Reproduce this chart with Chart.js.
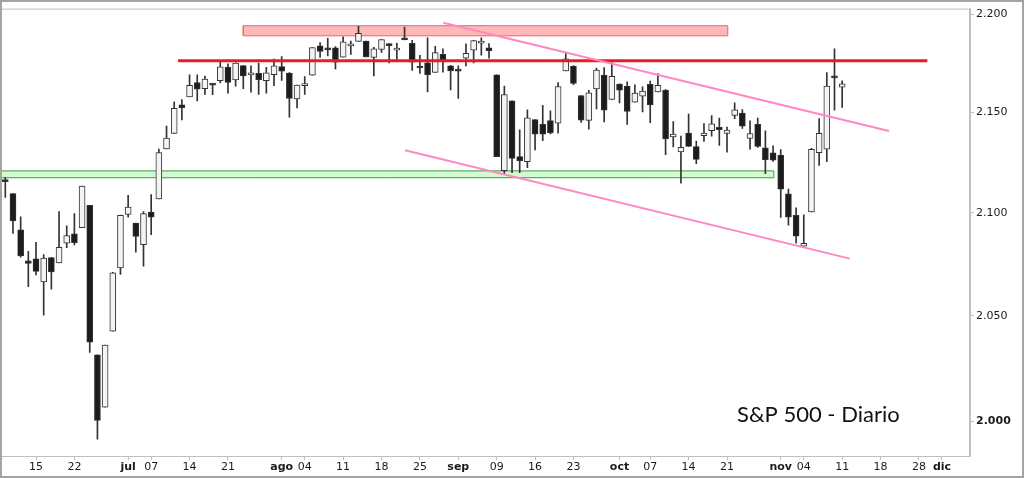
<!DOCTYPE html>
<html>
<head>
<meta charset="utf-8">
<script src="https://cdn.jsdelivr.net/npm/chart.js@4.4.1/dist/chart.umd.min.js"></script>
<style>
html,body{margin:0;padding:0;background:#fff;}
canvas{display:block;}
</style>
</head>
<body>
<canvas id="grafico" width="1024" height="478"></canvas>
<script>
// sesiones (dias habiles) 09/06/2016 - 11/11/2016
var fechas = ['09/06','10/06','13/06','14/06','15/06','16/06','17/06','20/06','21/06','22/06',
	'23/06','24/06','27/06','28/06','29/06','30/06','01/07','05/07','06/07','07/07',
	'08/07','11/07','12/07','13/07','14/07','15/07','18/07','19/07','20/07','21/07',
	'22/07','25/07','26/07','27/07','28/07','29/07','01/08','02/08','03/08','04/08',
	'05/08','08/08','09/08','10/08','11/08','12/08','15/08','16/08','17/08','18/08',
	'19/08','22/08','23/08','24/08','25/08','26/08','29/08','30/08','31/08','01/09',
	'02/09','06/09','07/09','08/09','09/09','12/09','13/09','14/09','15/09','16/09',
	'19/09','20/09','21/09','22/09','23/09','26/09','27/09','28/09','29/09','30/09',
	'03/10','04/10','05/10','06/10','07/10','10/10','11/10','12/10','13/10','14/10',
	'17/10','18/10','19/10','20/10','21/10','24/10','25/10','26/10','27/10','28/10',
	'31/10','01/11','02/11','03/11','04/11','07/11','08/11','09/11','10/11','11/11'];

var aperturas = [2115.65,2109.57,2091.75,2076.65,2077.60,2066.36,2078.20,2075.58,2085.19,2089.75,
	2092.80,2103.81,2031.45,2006.67,2042.69,2073.17,2099.34,2095.05,2084.43,2100.42,
	2106.97,2131.72,2139.50,2153.81,2157.88,2165.13,2162.04,2163.79,2166.10,2172.91,
	2166.47,2173.71,2168.97,2169.81,2166.05,2169.16,2173.15,2169.94,2156.81,2163.51,
	2168.79,2183.76,2182.24,2182.81,2177.97,2183.74,2186.08,2186.24,2177.84,2181.90,
	2184.24,2181.58,2187.81,2185.09,2173.29,2175.10,2170.19,2179.45,2173.56,2171.33,
	2177.49,2181.61,2185.17,2182.76,2169.08,2120.86,2155.81,2127.86,2125.36,2146.48,
	2143.99,2145.94,2144.58,2170.94,2173.29,2158.54,2146.04,2161.85,2168.90,2156.51,
	2164.33,2163.37,2155.15,2158.22,2164.19,2160.39,2161.35,2137.67,2130.26,2139.68,
	2132.95,2138.31,2140.81,2142.51,2139.43,2148.50,2149.72,2136.97,2144.06,2132.23,
	2129.78,2128.68,2109.43,2098.80,2083.79,2100.59,2129.92,2131.56,2167.49,2162.71];

var maximos = [2117.64,2109.57,2098.12,2081.30,2085.65,2079.62,2078.20,2100.66,2093.66,2099.71,
	2113.32,2103.81,2031.45,2036.09,2071.00,2098.94,2108.71,2095.05,2100.72,2109.08,
	2131.71,2143.16,2155.40,2156.45,2169.05,2169.05,2168.35,2164.63,2175.63,2174.56,
	2175.11,2173.71,2173.54,2174.98,2172.85,2177.09,2178.29,2170.20,2163.79,2168.19,
	2182.87,2185.44,2187.66,2183.41,2188.45,2186.28,2193.81,2186.24,2183.08,2187.03,
	2185.00,2185.15,2193.42,2186.66,2179.00,2187.94,2183.48,2182.27,2173.79,2173.56,
	2184.87,2186.57,2187.87,2184.94,2169.08,2163.30,2155.81,2141.33,2151.31,2146.48,
	2153.61,2150.80,2165.11,2179.99,2173.75,2158.54,2161.13,2172.40,2172.67,2175.30,
	2164.41,2165.46,2163.95,2162.93,2165.86,2169.60,2161.56,2145.36,2138.19,2149.19,
	2135.61,2144.38,2148.44,2147.18,2142.63,2154.79,2151.44,2145.73,2147.13,2140.72,
	2133.25,2131.45,2111.76,2102.56,2099.07,2132.00,2146.87,2170.10,2182.30,2165.92];

var minimos = [2107.73,2089.96,2078.46,2064.10,2069.80,2050.37,2062.84,2075.58,2083.02,2084.36,
	2092.80,2032.57,1991.68,2006.67,2042.69,2070.00,2097.90,2080.86,2074.02,2089.39,
	2106.97,2131.72,2139.50,2146.21,2157.88,2155.79,2159.07,2159.01,2164.89,2159.75,
	2163.24,2161.95,2160.18,2159.07,2159.74,2163.49,2166.21,2147.58,2152.25,2159.07,
	2168.79,2177.85,2178.61,2172.00,2177.97,2179.42,2186.08,2178.14,2168.50,2180.46,
	2175.13,2175.96,2186.80,2171.25,2169.74,2160.39,2170.19,2170.41,2161.35,2157.09,
	2173.59,2175.10,2179.07,2177.49,2127.81,2119.12,2119.86,2119.90,2122.36,2131.20,
	2135.91,2139.17,2139.57,2170.94,2163.97,2145.04,2141.55,2151.79,2145.20,2156.51,
	2154.77,2144.01,2155.15,2150.28,2144.85,2160.39,2128.84,2132.77,2114.72,2132.98,
	2124.43,2135.49,2138.15,2133.44,2130.09,2146.91,2141.93,2131.59,2132.52,2119.36,
	2125.53,2097.85,2094.00,2085.23,2083.79,2100.59,2123.56,2125.35,2151.17,2152.49];

var cierres = [2115.48,2096.07,2079.06,2075.32,2071.50,2077.99,2071.22,2083.25,2088.90,2085.45,
	2113.32,2037.41,2000.54,2036.09,2070.77,2098.86,2102.95,2088.55,2099.73,2097.90,
	2129.90,2137.16,2152.14,2152.43,2163.75,2161.74,2166.89,2163.78,2173.02,2165.17,
	2175.03,2168.48,2169.18,2166.58,2170.06,2173.60,2170.84,2157.03,2163.79,2164.25,
	2182.87,2180.89,2181.74,2175.49,2185.79,2184.05,2190.15,2178.15,2182.22,2187.02,
	2183.87,2182.64,2186.90,2175.44,2172.47,2169.04,2180.38,2176.12,2170.95,2170.86,
	2179.98,2186.48,2186.16,2181.30,2127.81,2159.04,2127.02,2125.77,2147.26,2139.16,
	2139.12,2139.76,2163.12,2177.18,2164.69,2146.10,2159.93,2171.37,2151.13,2168.27,
	2161.20,2150.49,2159.73,2160.77,2153.74,2163.66,2136.73,2139.18,2132.55,2132.98,
	2126.50,2139.60,2144.29,2141.34,2141.16,2151.33,2143.16,2139.43,2133.04,2126.41,
	2126.15,2111.72,2097.94,2088.66,2085.18,2131.52,2139.56,2163.26,2167.48,2164.45];

// eje x: posicion (sesion) y texto de cada marca
var marcasX = [4,9,16,19,24,29,36,39,44,49,54,59,64,69,74,80,84,89,94,101,104,109,114,119,122];
var textosX = ['15','22','jul','07','14','21','ago','04','11','18','25','sep','09','16','23','oct','07','14','21','nov','04','11','18','28','dic'];
var meses = ['jul','ago','sep','oct','nov','dic'];
var marcasY = [2000,2050,2100,2150,2200];

// lineas y zonas dibujadas a mano
var resistencia = [{x:22.5,y:2176.2},{x:120.1,y:2176.2}];
var zonaRoja = {x1:31.0, x2:94.1, y1:2188.9, y2:2194.1};
var zonaVerde = {x1:-0.6, x2:100.1, y1:2117.4, y2:2120.8};
var canalSup = [{x:57.05,y:2195.6},{x:115.1,y:2140.7}];
var canalInf = [{x:52.06,y:2131.1},{x:110.0,y:2077.7}];

var cuerpos = aperturas.map(function(o,i){
	return {x:i, y:[Math.min(o,cierres[i]), Math.max(o,cierres[i])]};
});
var mechas = maximos.map(function(h,i){
	return {x:i, y:[minimos[i], h]};
});
var colores = aperturas.map(function(o,i){
	return cierres[i] >= o ? '#f4f4f4' : '#1c1c1c';
});

function borde(z){
	return [{x:z.x1,y:z.y1},{x:z.x2,y:z.y1},{x:z.x2,y:z.y2},{x:z.x1,y:z.y2},{x:z.x1,y:z.y1}];
}
function lado(z, y){
	return [{x:z.x1,y:y},{x:z.x2,y:y}];
}
function linea(data, color, ancho, orden, relleno){
	return {type:'line', data:data, borderColor:color, borderWidth:ancho, pointRadius:0,
		fill:relleno || false, backgroundColor:'rgba(0,0,0,0)', order:orden, tension:0};
}

var zRojaArriba = linea(lado(zonaRoja, zonaRoja.y2), 'rgba(0,0,0,0)', 0, 9, '+1');
zRojaArriba.backgroundColor = '#ffb8b8';
var zVerdeArriba = linea(lado(zonaVerde, zonaVerde.y2), 'rgba(0,0,0,0)', 0, 9, '+1');
zVerdeArriba.backgroundColor = '#d4fad4';

var marco = {
	id:'marco',
	afterDraw: function(chart){
		var ctx = chart.ctx, a = chart.chartArea;
		ctx.save();
		ctx.strokeStyle = '#b8c0c8';
		ctx.lineWidth = 1;
		ctx.strokeRect(a.left+0.5, a.top+0.5, a.right-a.left-1, a.bottom-a.top);
		ctx.strokeStyle = '#a4a4a4';
		ctx.lineWidth = 2;
		ctx.strokeRect(1, 1, chart.width-2, chart.height-2);
		ctx.fillStyle = '#111';
		ctx.font = '22px Lato';
		ctx.textBaseline = 'alphabetic';
		ctx.fillText('S&P 500 - Diario', 737, 421.5);
		ctx.restore();
	}
};

new Chart(document.getElementById('grafico'), {
	type:'bar',
	data:{
		labels:fechas,
		datasets:[
			zRojaArriba,
			linea(lado(zonaRoja, zonaRoja.y1), 'rgba(0,0,0,0)', 0, 8),
			linea(borde(zonaRoja), '#f06464', 1, 7),
			zVerdeArriba,
			linea(lado(zonaVerde, zonaVerde.y1), 'rgba(0,0,0,0)', 0, 8),
			linea(borde(zonaVerde), '#3c9a3c', 1, 7),
			{
				label:'mechas', data:mechas, backgroundColor:'#333', borderWidth:0,
				barThickness:1, grouped:false, order:2
			},
			{
				label:'velas', data:cuerpos, backgroundColor:colores, borderColor:'#333',
				borderWidth:1, barThickness:6, grouped:false, minBarLength:2, order:1, borderSkipped:false
			},
			linea(resistencia, '#e81c24', 3, -1),
			linea(canalSup, '#ff88c4', 2, -2),
			linea(canalInf, '#ff88c4', 2, -2)
		]
	},
	options:{
		responsive:false,
		animation:false,
		layout:{padding:{left:1, top:2, right:0, bottom:0}},
		plugins:{legend:{display:false}, tooltip:{enabled:false}},
		scales:{
			x:{
				type:'linear', min:-0.56, max:125.65, offset:false,
				afterBuildTicks:function(s){ s.ticks = marcasX.map(function(v){ return {value:v}; }); },
				afterFit:function(s){ s.height = 22; },
				grid:{display:true, drawOnChartArea:false, offset:false, tickLength:4, color:'#b8c0c8'},
				border:{display:true, color:'#b8c0c8', width:1},
				ticks:{
					autoSkip:false, maxRotation:0, minRotation:0, padding:1, color:'#1a1a1a',
					callback:function(v, i){ return textosX[i]; },
					font:function(c){
						var b = c.tick && meses.indexOf(textosX[marcasX.indexOf(c.tick.value)]) >= 0;
						return {family:'DejaVu Sans', size:11, weight:b ? 'bold' : 'normal'};
					}
				}
			},
			y:{
				type:'logarithmic', position:'right', min:1983.9, max:2202.9,
				afterBuildTicks:function(s){ s.ticks = marcasY.map(function(v){ return {value:v}; }); },
				afterFit:function(s){ s.width = 54; },
				grid:{display:true, drawOnChartArea:false, tickLength:4, color:'#b8c0c8'},
				border:{display:true, color:'#b8c0c8', width:1},
				ticks:{
					padding:2, color:'#1a1a1a',
					callback:function(v){ return (v/1000).toFixed(3); },
					font:function(c){
						return {family:'DejaVu Sans', size:11, weight:(c.tick && c.tick.value === 2000) ? 'bold' : 'normal'};
					}
				}
			}
		}
	},
	plugins:[marco]
});
</script>
</body>
</html>
